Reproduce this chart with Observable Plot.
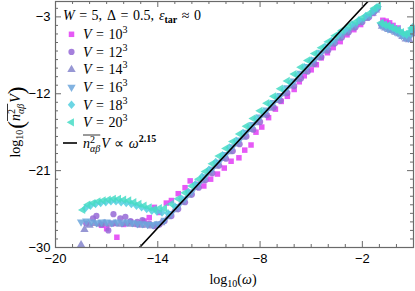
<!DOCTYPE html>
<html><head><meta charset="utf-8">
<script src="https://cdn.jsdelivr.net/npm/d3@7"></script>
<script src="https://cdn.jsdelivr.net/npm/@observablehq/plot@0.6"></script>
<style>body{margin:0;background:#fff}#chart{width:415px;height:291px}</style>
</head><body><div id="chart"></div>
<script>
// ---- data (log10 omega, log10 of n^2 V) ----
const legendBases = ["10", "12", "14", "16", "18", "20"];
const xTicks = [-20, -14, -8, -2];
const yTicks = [-30, -21, -12, -3];

const x10 = [-17.3,-17.0,-16.6,-16.4,-16.0,-15.6,-15.2,-14.8,-14.5,-14.2,-13.9,-13.5,-13.2,-12.8,-12.4,-12.1,-11.7,-11.3,-10.9,-10.5,-10.1,-9.7,-9.24,-8.9,-8.53,-8.24,-7.9,-7.5,-7.1,-6.76,-6.4,-6.0,-5.7,-5.41,-5.0,-4.7,-4.41,-4.05,-3.71,-3.3,-2.9,-2.5,-2.1,-1.7,-1.4,-1.1,-0.8,-0.6,-0.4,-0.2,0.1];
const y10 = [-27.4,-27.8,-27.2,-28.8,-27.3,-27.0,-27.3,-26.9,-26.5,-25.3,-25.9,-24.8,-24.5,-23.7,-23.0,-22.2,-22.6,-22.8,-22.0,-21.4,-20.7,-19.9,-19.5,-18.6,-18.0,-16.5,-15.9,-14.8,-13.8,-12.9,-12.3,-11.5,-10.6,-9.9,-9.2,-8.6,-7.8,-7.2,-6.6,-5.9,-5.1,-4.5,-3.9,-3.1,-2.6,-1.9,-3.4,-3.5,-3.7,-4.0,-4.3];

const x12 = [-18.2,-17.8,-17.6,-17.3,-16.9,-16.6,-16.2,-15.9,-15.6,-15.2,-14.9,-14.5,-14.2,-13.9,
  -13.6,-13.2,-12.8,-12.4,-12.0,-11.6,-11.2,-10.8,-10.4,-10.0,-9.6,-9.2,-8.8,-8.4,-8.0,-7.6,-7.2,-6.8,-6.4,-6.0,-5.6,-5.2,-4.8,-4.4,-4.0,-3.6,-3.2,-2.8,-2.4,-2.0,-1.6,-1.3,-1.1,
  -0.9,-0.6,-0.3,0.0,0.3,0.6,0.9];
const y12 = [-27.2,-26.6,-26.3,-27.3,-28.0,-26.1,-26.6,-26.4,-26.9,-27.0,-26.8,-27.2,-27.5,-27.3,
  -26.9,-26.3,-25.5,-24.7,-23.8,-23.0,-22.1,-21.3,-20.4,-19.6,-18.7,-17.9,-17.0,-16.2,-15.3,-14.5,-13.6,-12.8,-11.9,-11.1,-10.2,-9.4,-8.5,-7.7,-6.9,-6.1,-5.4,-4.8,-4.2,-3.6,-3.0,-2.4,-2.0,
  -3.9,-4.1,-4.3,-4.6,-4.9,-5.2,-4.8];

const x14 = [-18.5,-18.3,-18.0,-17.7,-17.4,-17.1,-16.8,-16.5,-16.2,-15.9,-15.6,-15.3,-15.0,-14.7,-14.4,-14.1,-13.8,
  -13.4,-13.0,-12.6,-12.2,-11.8,-11.4,-11.0,-10.6,-10.2,-9.8,-9.4,-9.0,-8.6,-8.2,-7.8,-7.4,-7.0,-6.6,-6.2,-5.8,-5.4,-5.0,-4.6,-4.2,-3.8,-3.4,-3.0,-2.6,-2.2,-1.8,-1.4,-1.2,
  -0.85,-0.65,-0.45,-0.25,-0.05,0.15,0.35,0.55,0.75,0.9];
const y14 = [-29.7,-27.9,-27.4,-27.2,-27.3,-27.2,-27.3,-27.2,-27.3,-27.2,-27.3,-27.3,-27.4,-27.4,-27.5,-27.4,-27.1,
  -26.4,-25.6,-24.7,-23.9,-23.0,-22.2,-21.3,-20.5,-19.6,-18.8,-17.9,-17.1,-16.2,-15.4,-14.5,-13.7,-12.8,-12.0,-11.1,-10.3,-9.4,-8.6,-7.8,-7.0,-6.2,-5.5,-4.9,-4.3,-3.7,-3.2,-2.6,-2.2,
  -4.1,-4.3,-4.5,-4.6,-4.8,-5.0,-5.3,-5.6,-5.7,-5.0];

const x16 = [-18.5,-18.2,-17.9,-17.6,-17.3,-17.0,-16.7,-16.4,-16.1,-15.8,-15.5,-15.2,-14.9,-14.6,-14.3,-14.0,
  -13.6,-13.2,-12.8,-12.4,-12.0,-11.6,-11.2,-10.8,-10.4,-10.0,-9.6,-9.2,-8.8,-8.4,-8.0,-7.6,-7.2,-6.8,-6.4,-6.0,-5.6,-5.2,-4.8,-4.4,-4.0,-3.6,-3.2,-2.8,-2.4,-2.0,-1.6,-1.3,-1.1,
  -0.9,-0.7,-0.5,-0.3,-0.1,0.1,0.3,0.5,0.7,0.85,0.95];
const y16 = [-27.0,-26.9,-27.0,-27.1,-27.0,-27.0,-27.1,-27.0,-27.1,-27.0,-27.1,-27.2,-27.2,-27.3,-27.3,-27.2,
  -26.8,-26.0,-25.2,-24.3,-23.5,-22.6,-21.7,-20.8,-20.0,-19.1,-18.2,-17.4,-16.5,-15.6,-14.7,-13.9,-13.0,-12.2,-11.3,-10.5,-9.6,-8.8,-8.0,-7.2,-6.5,-5.8,-5.1,-4.5,-3.9,-3.4,-2.9,-2.3,-2.0,
  -4.0,-4.2,-4.4,-4.5,-4.7,-4.9,-5.2,-5.4,-5.5,-5.1,-4.6];

const x18 = [-18.25,-17.95,-17.65,-17.35,-17.05,-16.75,-16.45,-16.15,-15.85,-15.55,-15.25,-14.95,-14.65,-14.35,-14.05,-13.75,
  -13.4,-13.0,-12.6,-12.2,-11.8,-11.4,-11.0,-10.6,-10.2,-9.8,-9.4,-9.0,-8.6,-8.2,-7.8,-7.4,-7.0,-6.6,-6.2,-5.8,-5.4,-5.0,-4.6,-4.2,-3.8,-3.4,-3.0,-2.6,-2.2,-1.8,-1.4,-1.15,
  -0.8,-0.6,-0.4,-0.2,0.0,0.2,0.4,0.6,0.8,0.95];
const y18 = [-25.4,-25.1,-24.9,-24.8,-24.7,-24.6,-24.6,-24.7,-24.8,-24.9,-25.1,-25.3,-25.5,-25.7,-25.8,-25.9,
  -26.0,-25.2,-24.3,-23.5,-22.6,-21.7,-20.9,-20.0,-19.2,-18.3,-17.5,-16.6,-15.8,-14.9,-14.1,-13.2,-12.4,-11.5,-10.7,-9.8,-8.9,-8.1,-7.3,-6.5,-5.8,-5.1,-4.5,-3.9,-3.4,-2.9,-2.3,-1.9,
  -3.8,-4.0,-4.1,-4.3,-4.5,-4.7,-5.0,-5.1,-4.7,-4.2];

const x20 = [-18.4,-18.1,-17.8,-17.5,-17.2,-16.9,-16.6,-16.3,-16.0,-15.7,-15.4,-15.1,-14.8,-14.5,-14.2,-13.9,
  -13.6,-13.2,-12.8,-12.4,-12.0,-11.6,-11.2,-10.8,-10.4,-10.0,-9.6,-9.2,-8.8,-8.4,-8.0,-7.6,-7.2,-6.8,-6.4,-6.0,-5.6,-5.2,-4.8,-4.4,-4.0,-3.6,-3.2,-2.8,-2.4,-2.0,-1.6,-1.3,-1.05,
  -0.9,-0.7,-0.5,-0.3,-0.1,0.1,0.3,0.5,0.7,0.9];
const y20 = [-25.6,-25.0,-24.8,-24.6,-24.5,-24.4,-24.3,-24.3,-24.4,-24.5,-24.7,-24.9,-25.1,-25.3,-25.5,-25.4,
  -25.4,-24.9,-24.3,-23.6,-22.8,-22.0,-21.1,-20.2,-19.3,-18.4,-17.6,-16.7,-15.8,-14.9,-14.0,-13.1,-12.3,-11.4,-10.5,-9.7,-8.9,-8.1,-7.3,-6.6,-5.9,-5.2,-4.6,-4.1,-3.6,-3.1,-2.6,-2.0,-1.7,
  -3.7,-3.9,-4.0,-4.2,-4.4,-4.5,-4.8,-5.0,-4.9,-4.3];

// power-law guide  n^2 V ∝ ω^2.15 (two end points)
const fitX = [-16, 0];
const fitY = [-32.0, 2.4];

// ---- styling ----
const colors = ["#e23cf5", "#9569d6", "#8585cc", "#6ca6dc", "#52cfdf", "#46dcc6"];
function tri(rot) {
  return { draw(ctx, size) {
    const y = -Math.sqrt(size / (Math.sqrt(3) * 3));
    const pts = [[0, 2 * y], [-Math.sqrt(3) * y, -y], [Math.sqrt(3) * y, -y]].map(([a, b]) => {
      const c = Math.cos(rot), s = Math.sin(rot);
      return [a * c - b * s, a * s + b * c];
    });
    ctx.moveTo(pts[0][0], pts[0][1]); ctx.lineTo(pts[1][0], pts[1][1]); ctx.lineTo(pts[2][0], pts[2][1]); ctx.closePath();
  }};
}
const diamond = { draw(ctx, size) { const r = Math.sqrt(size / 2) * 0.95; ctx.moveTo(0, -r * 1.15); ctx.lineTo(r, 0); ctx.lineTo(0, r * 1.15); ctx.lineTo(-r, 0); ctx.closePath(); } };
const symbols = [d3.symbolSquare, d3.symbolCircle, tri(0), tri(Math.PI), diamond, tri(-Math.PI / 2)];
const xs = [x10, x12, x14, x16, x18, x20];
const ys = [y10, y12, y14, y16, y18, y20];
const series = legendBases.map((b, k) => ({ name: b, pts: xs[k].map((x, i) => ({ x, y: ys[k][i] })) }));
const fitRows = fitX.map((x, i) => ({ x, y: fitY[i] }));

const GRAY = "#6a6a6a";
const PH = 291 - 1 - 44, PW = 415 - 55 - 2;
const xMinor = d3.range(-19, 2).filter(v => !xTicks.includes(v));
const yMinor = d3.range(-29, -1).filter(v => !yTicks.includes(v));

const plot = Plot.plot({
  width: 415, height: 291,
  marginTop: 1, marginBottom: 44, marginLeft: 55, marginRight: 2,
  x: { domain: [-20, 1] },
  y: { domain: [-30, -1.2] },
  style: { fontFamily: "'Liberation Sans', Arial, sans-serif", fontSize: "13px", background: "white", color: "black" },
  marks: [
    ...series.map((s, k) => Plot.dot(s.pts, { x: "x", y: "y", symbol: symbols[k], r: 3.1, fill: colors[k], fillOpacity: 0.85, stroke: "none" })),
    Plot.line(fitRows, { x: "x", y: "y", stroke: "black", strokeWidth: 1.6, clip: true }),
    Plot.frame({ stroke: GRAY, strokeWidth: 1.2 }),
    Plot.tickX(xTicks, { x: d => d, insetTop: PH - 6, stroke: GRAY }),
    Plot.tickX(xTicks, { x: d => d, insetBottom: PH - 6, stroke: GRAY }),
    Plot.tickX(xMinor, { x: d => d, insetTop: PH - 3, stroke: GRAY }),
    Plot.tickX(xMinor, { x: d => d, insetBottom: PH - 3, stroke: GRAY }),
    Plot.tickY(yTicks, { y: d => d, insetRight: PW - 6, stroke: GRAY }),
    Plot.tickY(yTicks, { y: d => d, insetLeft: PW - 6, stroke: GRAY }),
    Plot.tickY(yMinor, { y: d => d, insetRight: PW - 3, stroke: GRAY }),
    Plot.tickY(yMinor, { y: d => d, insetLeft: PW - 3, stroke: GRAY }),
    Plot.axisX({ ticks: xTicks, tickSize: 0, tickPadding: 6, label: null }),
    Plot.axisY({ ticks: yTicks, tickSize: 0, tickPadding: 5, label: null })
  ]
});
document.getElementById("chart").appendChild(plot);
const svg = d3.select(plot);

const SERIF = "'Liberation Serif', 'Times New Roman', serif";
// one <text> with flowing tspans; pieces: {t, it, bold, size, dy (absolute baseline offset), dx (extra space before)}
function rich(parent, pieces, { x, y, anchor = "start", rotate = 0, size = 14, barY = -12 }) {
  const g = parent.append("g").attr("transform", `translate(${x},${y}) rotate(${rotate})`);
  const text = g.append("text").attr("text-anchor", anchor).attr("fill", "black")
    .style("font-family", SERIF).style("font-size", size + "px").style("white-space", "pre");
  let cur = 0, idx = 0;
  const barChars = [];
  for (const p of pieces) {
    const off = p.dy || 0;
    const ts = text.append("tspan").text(p.t).attr("dy", off - cur);
    cur = off;
    if (p.dx) ts.attr("dx", p.dx);
    if (p.size) ts.style("font-size", p.size + "px");
    if (p.it) ts.style("font-style", "italic");
    if (p.bold) ts.style("font-weight", "bold");
    if (p.bar) for (let i = 0; i < p.t.length; i++) barChars.push(idx + i);
    idx += p.t.length;
  }
  if (barChars.length) {
    const node = text.node();
    let x0 = Infinity, x1 = -Infinity;
    for (const i of barChars) {
      const e = node.getExtentOfChar(i);
      x0 = Math.min(x0, e.x); x1 = Math.max(x1, e.x + e.width);
    }
    g.append("line").attr("x1", x0).attr("x2", x1).attr("y1", barY).attr("y2", barY).attr("stroke", "black").attr("stroke-width", 0.8);
  }
  return g;
}

// legend
rich(svg, [{ t: "W", it: true }, { t: "=", dx: 4.5 }, { t: "5,", dx: 4.5 }, { t: "Δ", dx: 5 }, { t: "=", dx: 4.5 }, { t: "0.5,", dx: 4.5 },
  { t: "ε", it: true, dx: 5 }, { t: "tar", size: 10, dy: 3, bold: true }, { t: "≈", dx: 4.5 }, { t: "0", dx: 4.5 }], { x: 63, y: 20 });
legendBases.forEach((b, k) => {
  const cy = 34.3 + k * 17.6;
  svg.append("path").attr("transform", `translate(71.5,${cy})`).attr("d", d3.symbol(symbols[k], Math.PI * 9.6)())
    .attr("fill", colors[k]).attr("fill-opacity", 0.85);
  rich(svg, [{ t: "V", it: true }, { t: "=", dx: 4.5 }, { t: b, dx: 4.5 }, { t: "3", size: 10, dy: -6 }], { x: 83, y: cy + 4.8 });
});
svg.append("line").attr("x1", 63).attr("x2", 77).attr("y1", 143).attr("y2", 143).attr("stroke", "black").attr("stroke-width", 1.6);
rich(svg, [{ t: "n", it: true, bar: true }, { t: "2", size: 10, dy: -5, bar: true }, { t: "αβ", size: 10, dy: 4, it: true, dx: -5, bar: true },
  { t: "V", it: true, dx: 1 }, { t: "∝", dx: 4.5 }, { t: "ω", it: true, dx: 4.5 }, { t: "2.15", size: 10, dy: -6, bold: true }], { x: 83, y: 147.5, barY: -12.5 });

// axis labels
rich(svg, [{ t: "log" }, { t: "10", size: 10, dy: 3 }, { t: "(" }, { t: "ω", it: true }, { t: ")" }], { x: 233, y: 284, anchor: "middle" });
rich(svg, [{ t: "log" }, { t: "10", size: 10, dy: 3 }, { t: "(", size: 23, dy: 4, dx: 1 }, { t: "n", it: true, bar: true, dy: 0 }, { t: "2", size: 10, dy: -5, bar: true },
  { t: "αβ", size: 10, dy: 4, it: true, dx: -5, bar: true }, { t: "V", it: true, dx: 1, dy: 0 }, { t: ")", size: 23, dy: 4 }],
  { x: 20, y: 122, anchor: "middle", rotate: -90, barY: -12.5 });
</script>
</body></html>
